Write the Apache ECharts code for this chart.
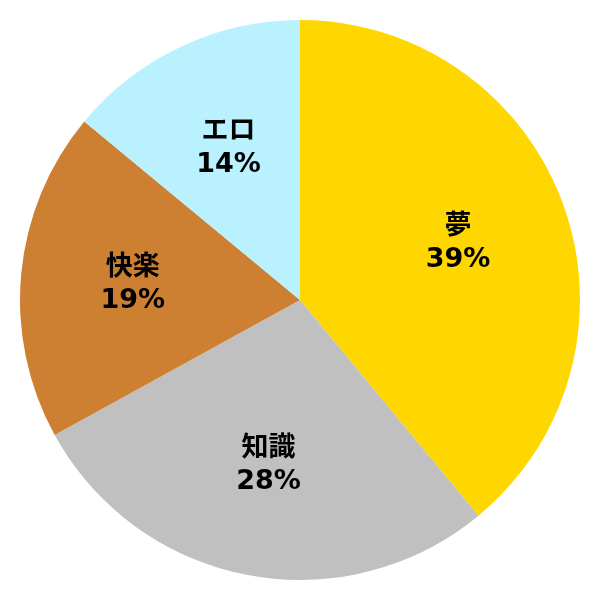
<!DOCTYPE html>
<html>
<head>
<meta charset="utf-8">
<script src="https://cdn.jsdelivr.net/npm/echarts@6/dist/echarts.min.js"></script>
<style>
html,body{margin:0;padding:0;background:#fff;}
#chart{width:600px;height:600px;}
</style>
</head>
<body>
<div id="chart"></div>
<script>
var names = ['夢', '知識', '快楽', 'エロ'];
var values = [39, 28, 19, 14];
var colors = ['#FFD700', '#C0C0C0', '#CD7F32', '#B9F1FF'];

var dom = document.getElementById('chart');
var myChart = echarts.init(dom);
var pieData = [];
for (var i = 0; i < names.length; i++) {
	pieData.push({ name: names[i], value: values[i], itemStyle: { color: colors[i] } });
}
var labelData = [];
for (var j = 0; j < names.length; j++) {
	labelData.push({ name: names[j], value: values[j] });
}

var option = {
	backgroundColor: '#ffffff',
	animation: false,
	series: [
		{
			type: 'pie',
			radius: ['0%', '93.333%'],
			center: ['50%', '50%'],
			startAngle: 90,
			clockwise: true,
			silent: true,
			label: { show: false },
			labelLine: { show: false },
			itemStyle: { borderWidth: 0 },
			data: pieData
		},
		{
			// invisible copy, only used to place the labels at 60% of the radius
			type: 'pie',
			radius: ['0%', '110%'],
			center: ['50%', '50%'],
			startAngle: 90,
			clockwise: true,
			silent: true,
			itemStyle: { color: 'rgba(0,0,0,0)', borderWidth: 0 },
			label: {
				show: true,
				position: 'inside',
				formatter: '{b}\n{c}%',
				color: '#000',
				fontSize: 27,
				fontWeight: 'bold',
				lineHeight: 33,
				fontFamily: '"DejaVu Sans", "Noto Sans CJK JP", sans-serif'
			},
			labelLine: { show: false },
			data: labelData
		}
	]
};

myChart.setOption(option, true);
</script>
</body>
</html>
